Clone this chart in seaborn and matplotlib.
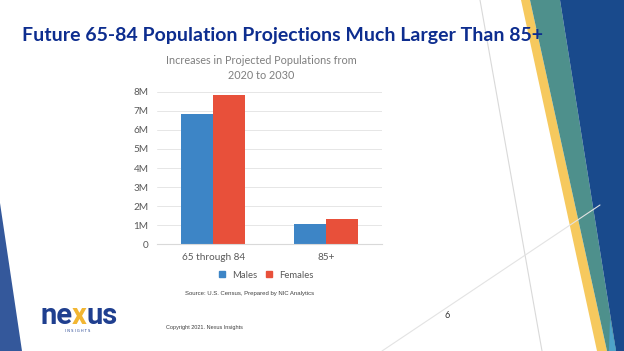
import matplotlib
matplotlib.use("Agg")
import matplotlib.pyplot as plt
from matplotlib.patches import Polygon
from matplotlib.lines import Line2D
import seaborn as sns
import pandas as pd

# ---- data ----
categories = ["65 through 84", "85+"]
series_names = ["Males", "Females"]
males = [6.85e6, 1.05e6]
females = [7.83e6, 1.31e6]
yticks = [0, 1e6, 2e6, 3e6, 4e6, 5e6, 6e6, 7e6, 8e6]
ytick_labels = ["0", "1M", "2M", "3M", "4M", "5M", "6M", "7M", "8M"]
slide_title = "Future 65-84 Population Projections Much Larger Than 85+"
chart_title = "Increases in Projected Populations from\n2020 to 2030"
source_text = "Source: U.S. Census, Prepared by NIC Analytics"
copyright_text = "Copyright 2021. Nexus Insights"
page_number = "6"

df = pd.DataFrame({
    "category": categories * 2,
    "series": [series_names[0]] * len(categories) + [series_names[1]] * len(categories),
    "value": males + females,
})

colors = ["#3d85c6", "#e8503a"]
W, H = 624, 351

sns.set_theme(style="white")
plt.rcParams["font.family"] = ["Lato", "DejaVu Sans"]

fig = plt.figure(figsize=(W / 100, H / 100), dpi=100)
fig.patch.set_facecolor("white")

# ---- background decoration (pixel coords) ----
bg = fig.add_axes([0, 0, 1, 1], zorder=-5)
bg.set_xlim(0, W)
bg.set_ylim(H, 0)
bg.axis("off")
bg.plot([480, 542], [0, 351], color="#d9d9d9", lw=0.8)
bg.plot([382, 600], [351, 205], color="#e3e3e3", lw=0.8)
bg.add_patch(Polygon([(0, 203), (22, 351), (0, 351)], closed=True, color="#34589b", lw=0))
bg.add_patch(Polygon([(521, 0), (530, 0), (607, 351), (597, 351)], closed=True, color="#f6c95e", lw=0))
bg.add_patch(Polygon([(530, 0), (560, 0), (616, 351), (607, 351)], closed=True, color="#4e908c", lw=0))
bg.add_patch(Polygon([(560, 0), (624, 0), (624, 351), (616, 351)], closed=True, color="#194a8c", lw=0))
bg.add_patch(Polygon([(610, 318), (616, 351), (609, 351)], closed=True, color="#4ea3c9", lw=0))

# ---- chart ----
ax_left, ax_right = 157 / W, 382 / W
ax_bottom, ax_top = 1 - 244.3 / H, 1 - 91.7 / H
ax = fig.add_axes([ax_left, ax_bottom, ax_right - ax_left, ax_top - ax_bottom])
ax.patch.set_alpha(0)
sns.barplot(data=df, x="category", y="value", hue="series", palette=colors,
            width=0.57, saturation=1, ax=ax, legend=False, linewidth=0)
ax.set_xlim(-0.5, 1.5)
ax.set_ylim(0, 8e6)
ax.set_yticks(yticks)
ax.set_yticklabels(ytick_labels)
ax.set_xlabel("")
ax.set_ylabel("")
for s in ["top", "right", "left"]:
    ax.spines[s].set_visible(False)
ax.spines["bottom"].set_color("#d9d9d9")
ax.spines["bottom"].set_linewidth(0.8)
ax.grid(axis="y", color="#e6e6e6", lw=0.7)
ax.set_axisbelow(True)
ax.tick_params(axis="both", length=0, labelsize=7.2, labelcolor="#595959")
ax.tick_params(axis="y", pad=6)
ax.tick_params(axis="x", pad=6)

handles = [Line2D([0], [0], marker="s", linestyle="", markersize=4.5, color=c) for c in colors]
fig.legend(handles, series_names, loc="center", bbox_to_anchor=(263 / W, 1 - 275 / H),
           ncol=2, frameon=False, fontsize=6.8, handletextpad=0.05, columnspacing=0.3,
           labelcolor="#595959", borderaxespad=0)

fig.text(261 / W, 1 - 68 / H, chart_title, ha="center", va="center", fontsize=7.8,
         color="#7f7f7f", linespacing=1.4)

# ---- slide texts ----
title = fig.text(22 / W, 1 - 36 / H, slide_title, ha="left", va="center", fontsize=14.5,
                 fontweight="bold", color="#0d2d8f", family=["Lato", "DejaVu Sans"])
fig.text(185 / W, 1 - 293 / H, source_text, ha="left", va="center", fontsize=4.3,
         color="#404040", family=["Liberation Sans", "DejaVu Sans"])
fig.text(166 / W, 1 - 327 / H, copyright_text, ha="left", va="center", fontsize=4,
         color="#404040", family=["Liberation Sans", "DejaVu Sans"])
fig.text(447 / W, 1 - 316 / H, page_number, ha="center", va="center", fontsize=6.5,
         color="#333333")

fig.canvas.draw()
renderer = fig.canvas.get_renderer()
# fit slide title width to ~518 px
tw = title.get_window_extent(renderer=renderer).width
title.set_fontsize(14.5 * 518 / tw)

# logo
x_px = 40
for part, col in [("ne", "#1f3f8f"), ("x", "#f2b632"), ("us", "#1f3f8f")]:
    t = fig.text(x_px / W, 1 - 324 / H, part, ha="left", va="baseline", fontsize=21,
                 fontweight="bold", color=col, family=["Roboto", "DejaVu Sans"])
    bb = t.get_window_extent(renderer=renderer)
    x_px += bb.width - 0.5
fig.text(78 / W, 1 - 331 / H, "I N S I G H T S", ha="center", va="center", fontsize=2.6,
         color="#1f3f8f", family=["DejaVu Sans"])

fig.savefig("out.png", dpi=100, facecolor="white")
